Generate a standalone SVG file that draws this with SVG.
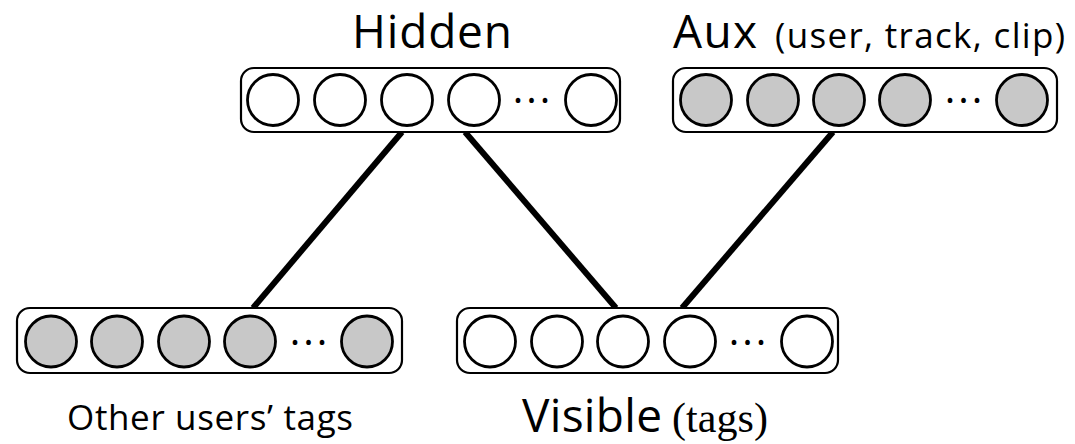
<svg xmlns="http://www.w3.org/2000/svg" width="1075" height="444" viewBox="0 0 1075 444">
<style>
.box{fill:#fff;stroke:#000;stroke-width:2.2}
.u{fill:#fff;stroke:#000;stroke-width:2.8}
.g{fill:#c8c8c8;stroke:#000;stroke-width:2.8}
.dots{font-family:"Open Sans",sans-serif;font-size:40px;fill:#000;letter-spacing:3px}
.big{font-family:"Open Sans",sans-serif;font-size:46px;fill:#000}
.mid{font-family:"Open Sans",sans-serif;font-size:35px;fill:#000}
.ser{font-family:"Liberation Serif",serif;font-size:42px;fill:#000}
.conn line{stroke:#000;stroke-width:6;stroke-linecap:butt}
</style>
<rect width="1075" height="444" fill="#fff"/>
<g class="conn" id="connectors">
<line x1="402" y1="132" x2="253" y2="308"/>
<line x1="465" y1="132" x2="616" y2="308"/>
<line x1="833" y1="132" x2="682" y2="308"/>
</g>
<g id="hidden">
<rect class="box" x="241" y="68" width="379" height="64" rx="13"/>
<circle class="u" cx="273" cy="100" r="25.5"/>
<circle class="u" cx="340" cy="100" r="25.5"/>
<circle class="u" cx="407" cy="100" r="25.5"/>
<circle class="u" cx="474" cy="100" r="25.5"/>
<text class="dots" x="533" y="114" text-anchor="middle">···</text>
<circle class="u" cx="591" cy="100" r="25.5"/>
<text class="big" x="352" y="48" textLength="160" lengthAdjust="spacing">Hidden</text>
</g>
<g id="aux">
<rect class="box" x="673" y="68" width="384" height="64" rx="13"/>
<circle class="g" cx="706" cy="100" r="25.5"/>
<circle class="g" cx="773" cy="100" r="25.5"/>
<circle class="g" cx="839" cy="100" r="25.5"/>
<circle class="g" cx="905" cy="100" r="25.5"/>
<text class="dots" x="965" y="114" text-anchor="middle">···</text>
<circle class="g" cx="1022" cy="100" r="25.5"/>
<text class="big" x="673" y="48" textLength="84" lengthAdjust="spacing">Aux</text>
<text class="mid" x="775" y="48" textLength="290" lengthAdjust="spacing">(user, track, clip)</text>
</g>
<g id="other">
<rect class="box" x="17" y="308" width="385" height="65" rx="13"/>
<circle class="g" cx="51" cy="341.5" r="25.5"/>
<circle class="g" cx="117" cy="341.5" r="25.5"/>
<circle class="g" cx="184" cy="341.5" r="25.5"/>
<circle class="g" cx="250" cy="341.5" r="25.5"/>
<text class="dots" x="310" y="355.5" text-anchor="middle">···</text>
<circle class="g" cx="367" cy="341.5" r="25.5"/>
<text class="mid" x="67" y="430" textLength="286" lengthAdjust="spacing" style="font-size:35px">Other users’ tags</text>
</g>
<g id="visible">
<rect class="box" x="457" y="308" width="381" height="65" rx="13"/>
<circle class="u" cx="490" cy="341.5" r="25.5"/>
<circle class="u" cx="557" cy="341.5" r="25.5"/>
<circle class="u" cx="623" cy="341.5" r="25.5"/>
<circle class="u" cx="690" cy="341.5" r="25.5"/>
<text class="dots" x="749" y="355.5" text-anchor="middle">···</text>
<circle class="u" cx="807" cy="341.5" r="25.5"/>
<text class="big" x="522" y="432" textLength="140" lengthAdjust="spacing">Visible</text>
<text class="ser" x="672" y="432" textLength="96" lengthAdjust="spacing">(tags)</text>
</g>
</svg>
